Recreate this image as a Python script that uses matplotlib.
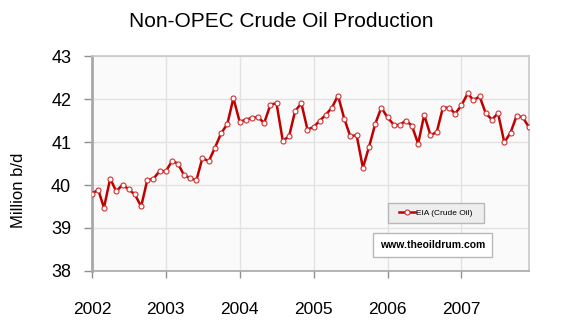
import matplotlib as mpl
mpl.use('Agg')
import matplotlib.pyplot as plt
import matplotlib.dates as mdates
from matplotlib.patches import Rectangle
import pandas as pd

# monthly non-OPEC crude production, million barrels per day
prod_2002 = [39.80, 39.89, 39.47, 40.15, 39.85, 40.01, 39.90, 39.78, 39.50, 40.11, 40.15, 40.32]
prod_2003 = [40.32, 40.56, 40.50, 40.23, 40.16, 40.11, 40.63, 40.55, 40.87, 41.20, 41.42, 42.02]
prod_2004 = [41.47, 41.52, 41.56, 41.58, 41.44, 41.87, 41.90, 41.03, 41.13, 41.72, 41.90, 41.29]
prod_2005 = [41.35, 41.50, 41.63, 41.80, 42.08, 41.54, 41.13, 41.16, 40.40, 40.88, 41.42, 41.80]
prod_2006 = [41.57, 41.40, 41.39, 41.50, 41.38, 40.96, 41.63, 41.16, 41.23, 41.79, 41.80, 41.66]
prod_2007 = [41.85, 42.13, 41.97, 42.06, 41.67, 41.52, 41.67, 40.99, 41.22, 41.61, 41.57, 41.34]

production = prod_2002 + prod_2003 + prod_2004 + prod_2005 + prod_2006 + prod_2007
months = pd.date_range('2002-01-01', periods=len(production), freq='MS')
years = [2002, 2003, 2004, 2005, 2006, 2007]
y_ticks = [38, 39, 40, 41, 42, 43]

plt.rcParams['font.family'] = ['Liberation Sans', 'DejaVu Sans']

fig = plt.figure(figsize=(5.63, 3.33), dpi=100)
ax = fig.add_axes([0.1634, 0.1862, 0.9396 - 0.1634, 0.8318 - 0.1862])
ax.set_facecolor('#fafafa')

ax.plot(months, production, color='#c00000', lw=1.8, marker='o', ms=3.6,
        mfc='white', mec='#d03030', mew=0.8, label='EIA (Crude Oil)', zorder=3)

ax.set_xlim(months[0], months[-1])
ax.set_ylim(38, 43)
ax.set_yticks(y_ticks)
ax.set_xticks([pd.Timestamp(f'{y}-01-01') for y in years])
ax.xaxis.set_major_formatter(mdates.DateFormatter('%Y'))

ax.grid(True, color='#e2e2e2', lw=1.0, zorder=0)
ax.tick_params(axis='y', direction='out', length=6, width=1, color='#909090',
               labelsize=13, pad=9)
ax.tick_params(axis='x', direction='out', length=5, width=1, color='#909090',
               labelsize=12.5, pad=17)

for side in ['top', 'right']:
    ax.spines[side].set_color('#c8c8c8')
    ax.spines[side].set_linewidth(1.2)
ax.spines['left'].set_color('#a8a8a8')
ax.spines['left'].set_linewidth(2)
ax.spines['bottom'].set_color('#a8a8a8')
ax.spines['bottom'].set_linewidth(1.2)

fig.text(0.5, 0.935, 'Non-OPEC Crude Oil Production', ha='center', va='center',
         fontsize=15)
fig.text(0.032, 0.427, 'Million b/d', rotation=90, ha='center', va='center',
         fontsize=12)

# legend: frame drawn separately so it can be wider than its content
ax.add_patch(Rectangle((0.677, 0.223), 0.220, 0.093, transform=ax.transAxes,
                       fc='#eeeeee', ec='#b8b8b8', lw=1.0, zorder=4))
ax.legend(loc='center', bbox_to_anchor=(0.787, 0.270), fontsize=6,
          frameon=False, handlelength=1.9, handletextpad=0.15,
          borderpad=0, borderaxespad=0).set_zorder(5)

# site watermark
ax.add_patch(Rectangle((0.643, 0.065), 0.272, 0.112, transform=ax.transAxes,
                       fc='white', ec='#b8b8b8', lw=1.0, zorder=4))
ax.text(0.779, 0.121, 'www.theoildrum.com', transform=ax.transAxes,
        fontsize=7.5, fontweight='bold', ha='center', va='center', zorder=5)

fig.savefig('out.png', dpi=100)
